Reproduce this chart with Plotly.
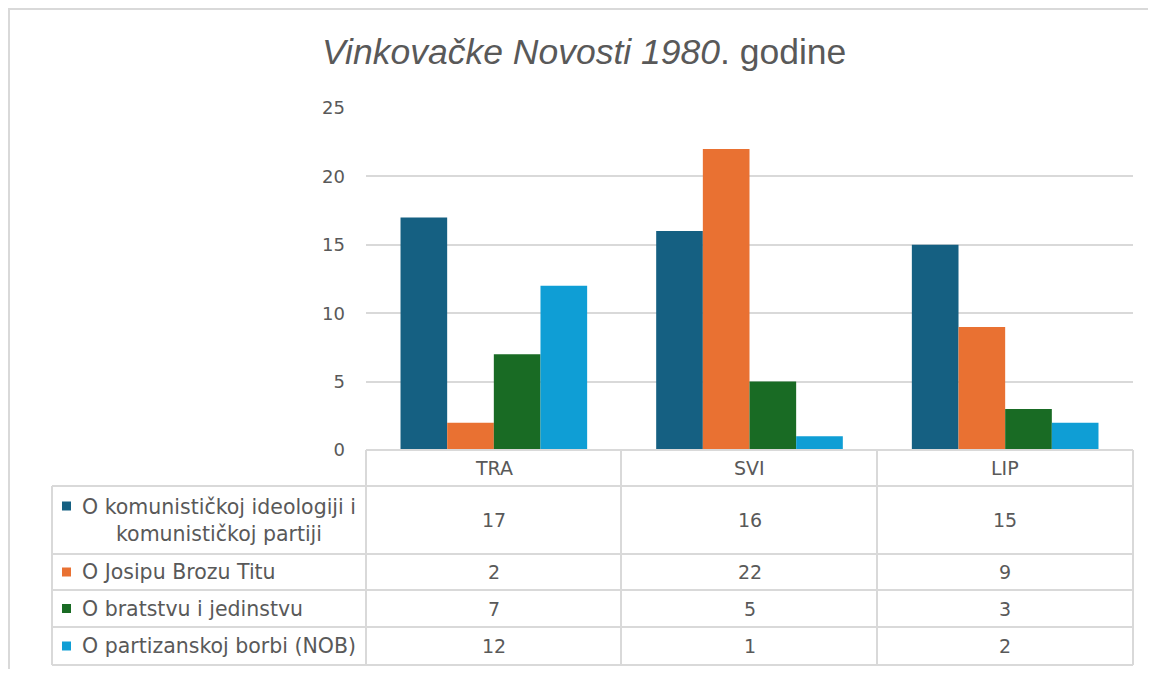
import plotly.graph_objects as go

categories = ["TRA", "SVI", "LIP"]
series_names = [
    "O komunističkoj ideologiji i<br>komunističkoj partiji",
    "O Josipu Brozu Titu",
    "O bratstvu i jedinstvu",
    "O partizanskoj borbi (NOB)",
]
ideologija = [17, 16, 15]
tito = [2, 22, 9]
bratstvo = [7, 5, 3]
nob = [12, 1, 2]
series_values = [ideologija, tito, bratstvo, nob]
colors = ["#156082", "#E97132", "#196B24", "#0F9ED5"]
y_ticks = [0, 5, 10, 15, 20, 25]

W, H = 1140, 661
OFF = 8


def px(X):
    return (X - OFF) / W


def py(Y):
    return 1 - (Y - OFF) / H


GRAY = "#595959"
LINE = "#d9d9d9"
FONT = "DejaVu Sans, Noto Sans, sans-serif"
FS_LABEL = 20.5
FS_NUM = 19
FS_TICK = 18

fig = go.Figure()
for name, vals, col in zip(series_names, series_values, colors):
    fig.add_trace(go.Bar(x=categories, y=vals, name=name.replace("<br>", " "),
                         marker=dict(color=col, line=dict(width=0))))

shapes = []
annotations = []

# outer frame (top and left)
shapes.append(dict(type="line", xref="paper", yref="paper", x0=0, x1=1,
                   y0=py(9), y1=py(9), line=dict(color=LINE, width=2)))
shapes.append(dict(type="line", xref="paper", yref="paper", x0=px(9), x1=px(9),
                   y0=0, y1=1, line=dict(color=LINE, width=2)))

# data table geometry
col_edges = [366, 621, 877, 1133]
left_x = 52
row_edges = [450, 486, 554, 590, 627, 665]

for i, Y in enumerate(row_edges):
    x0 = col_edges[0] if i == 0 else left_x
    shapes.append(dict(type="line", xref="paper", yref="paper", x0=px(x0), x1=px(col_edges[-1]),
                       y0=py(Y), y1=py(Y), line=dict(color=LINE, width=2)))
for X in col_edges:
    shapes.append(dict(type="line", xref="paper", yref="paper", x0=px(X), x1=px(X),
                       y0=py(row_edges[0]), y1=py(row_edges[-1]), line=dict(color=LINE, width=2)))
shapes.append(dict(type="line", xref="paper", yref="paper", x0=px(left_x), x1=px(left_x),
                   y0=py(row_edges[1]), y1=py(row_edges[-1]), line=dict(color=LINE, width=2)))

for c in categories:
    annotations.append(dict(x=c, xref="x", y=py((row_edges[0] + row_edges[1]) / 2), yref="paper",
                            xanchor="center", yanchor="middle",
                            text=c, showarrow=False, font=dict(family=FONT, size=FS_NUM, color=GRAY)))

for r, (name, vals, col) in enumerate(zip(series_names, series_values, colors)):
    top, bot = row_edges[r + 1], row_edges[r + 2]
    yc = (top + bot) / 2
    for c, v in zip(categories, vals):
        annotations.append(dict(x=c, xref="x", y=py(yc), yref="paper", text=str(v),
                                xanchor="center", yanchor="middle",
                                showarrow=False, font=dict(family=FONT, size=FS_NUM, color=GRAY)))
    annotations.append(dict(x=px(80), xref="paper", y=py(yc), yref="paper", text=name,
                            showarrow=False, align="center", xanchor="left", yanchor="middle",
                            font=dict(family=FONT, size=FS_LABEL, color=GRAY)))
    sq_y = yc if "<br>" not in name else top + 20
    shapes.append(dict(type="rect", xref="paper", yref="paper", x0=px(62), x1=px(71),
                       y0=py(sq_y - 4.5), y1=py(sq_y + 4.5), fillcolor=col, line=dict(width=0)))

annotations.append(dict(x=px(584), xref="paper", y=py(52), yref="paper",
                        xanchor="center", yanchor="middle",
                        text="<i>Vinkovačke Novosti 1980</i>. godine", showarrow=False,
                        font=dict(family="Liberation Sans Narrow, Arial Narrow, sans-serif", size=35.5, color=GRAY)))

fig.update_layout(
    width=W, height=H,
    margin=dict(l=0, r=0, t=0, b=0, autoexpand=False),
    paper_bgcolor="white", plot_bgcolor="white",
    showlegend=False,
    barmode="group", bargap=0.27, bargroupgap=0,
    xaxis=dict(domain=[px(366), px(1133)], showticklabels=False, showgrid=False,
               zeroline=False, showline=False, ticks="", automargin=False),
    yaxis=dict(domain=[py(450), py(108)], range=[0, 25], tickvals=y_ticks, automargin=False,
               showgrid=True, gridcolor=LINE, gridwidth=2, zeroline=False, showline=False,
               tickfont=dict(family=FONT, size=FS_TICK, color=GRAY), ticklabelstandoff=20),
    shapes=shapes,
    annotations=annotations,
)

fig.write_html("out.html")
